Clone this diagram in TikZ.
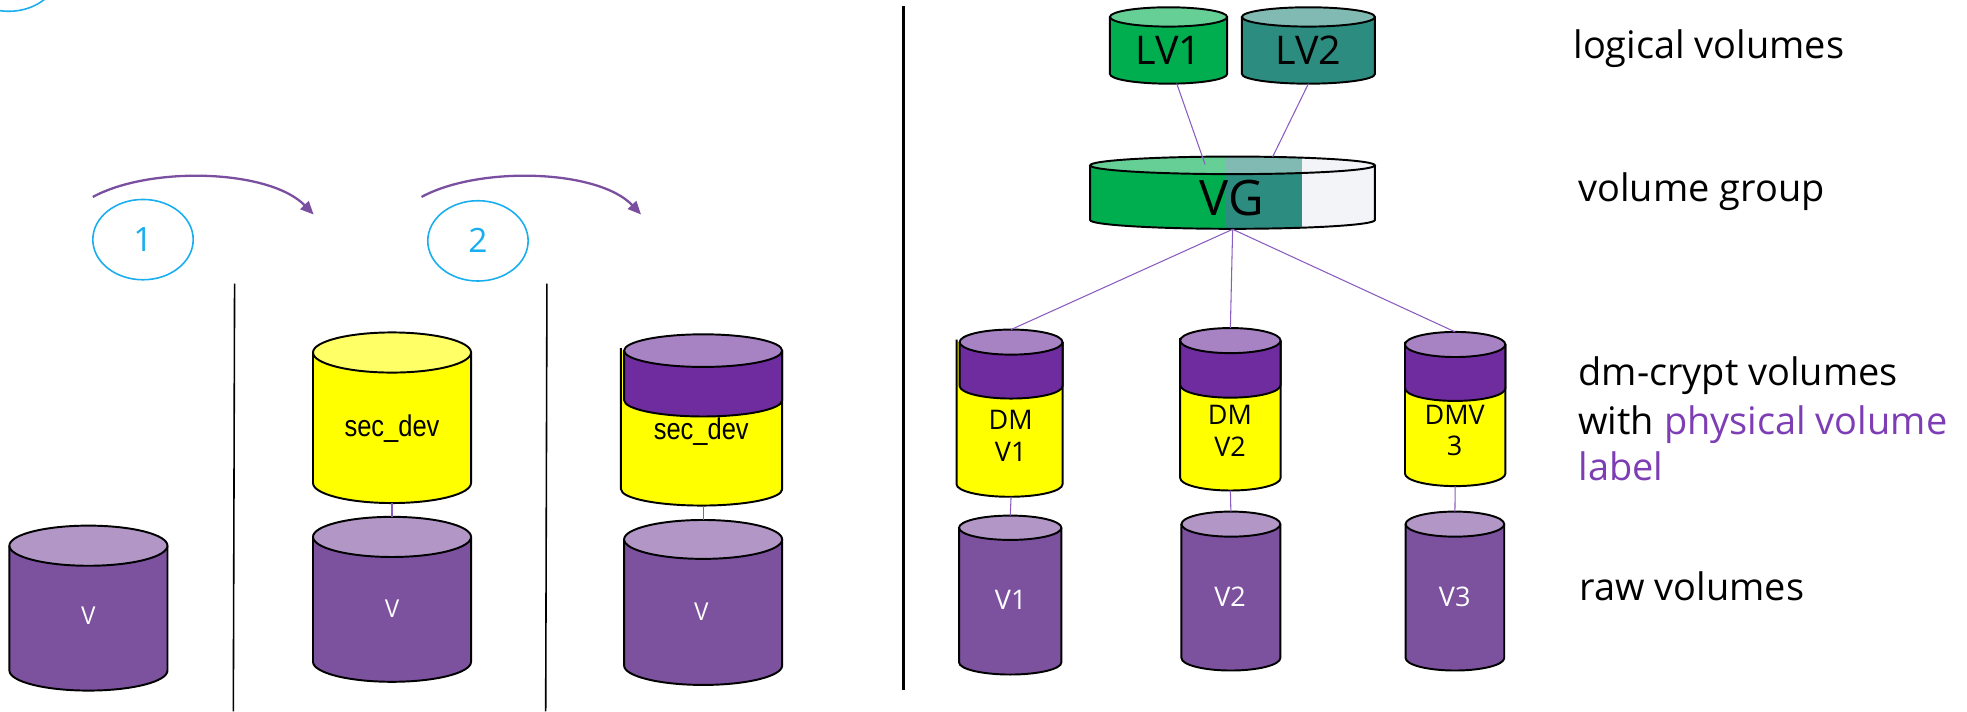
\documentclass[tikz,border=0pt]{standalone}
\usepackage{fontspec}
\setmainfont{Open Sans}
\newfontfamily\narrowfont[FakeStretch=0.85]{Liberation Sans}
\usetikzlibrary{arrows.meta,shapes.geometric}

\definecolor{rawbody}{HTML}{7C519E}
\definecolor{rawtop}{HTML}{B196C6}
\definecolor{bandbody}{HTML}{6E2C9E}
\definecolor{bandtop}{HTML}{A883C4}
\definecolor{secyellow}{HTML}{FFFF00}
\definecolor{sectop}{HTML}{FFFF66}
\definecolor{lvgreen}{HTML}{00AE4F}
\definecolor{lvgreentop}{HTML}{66CF95}
\definecolor{lvteal}{HTML}{2D8C80}
\definecolor{lvtealtop}{HTML}{80BAB3}
\definecolor{vgfree}{HTML}{F2F4F8}
\definecolor{tiecol}{HTML}{8A5CC0}
\definecolor{flowcol}{HTML}{7B4FA0}
\definecolor{stepcyan}{HTML}{19AEEF}
\definecolor{pvlabel}{HTML}{7D3DB5}

% plain cylinder: name, cx, y of top ellipse, y of bottom ellipse, rx, ry, body colour, lid colour
\newcommand\volcyl[8]{%
  \fill[#7] ({#2-#5},#3) -- ({#2-#5},#4) arc[start angle=180,end angle=0,x radius=#5,y radius=#6] -- ({#2+#5},#3) -- cycle;
  \draw[outline] ({#2-#5},#3) -- ({#2-#5},#4) arc[start angle=180,end angle=0,x radius=#5,y radius=#6] -- ({#2+#5},#3);
  \draw[outline,fill=#8] (#2,#3) ellipse[x radius=#5,y radius=#6];
  \coordinate (#1-top) at (#2,{#3-#6});
  \coordinate (#1-bot) at (#2,{#4+#6});
}

% encrypted cylinder with a label band: name, cx, y top, y band, y bottom, rx, ry, extra width on the left
\newcommand\dmcyl[8]{%
  \fill[secyellow] ({#2-#6-#8},#3) -- ({#2-#6-#8},#5) arc[start angle=180,end angle=0,x radius={#6+#8/2},y radius=#7] -- ({#2+#6},#3) -- cycle;
  \draw[outline] ({#2-#6-#8},{#3-2}) -- ({#2-#6-#8},#5) arc[start angle=180,end angle=0,x radius={#6+#8/2},y radius=#7] -- ({#2+#6},#3);
  \fill[bandbody] ({#2-#6},#3) -- ({#2-#6},#4) arc[start angle=180,end angle=0,x radius=#6,y radius=#7] -- ({#2+#6},#3) -- cycle;
  \draw[outline] ({#2-#6},#3) -- ({#2-#6},#4) arc[start angle=180,end angle=0,x radius=#6,y radius=#7] -- ({#2+#6},#3);
  \draw[outline,fill=bandtop] (#2,#3) ellipse[x radius=#6,y radius=#7];
  \coordinate (#1-top) at (#2,{#3-#7});
  \coordinate (#1-bot) at (#2,{#5+#7});
}

\begin{document}
\begin{tikzpicture}[x=0.025cm,y=-0.025cm,
  outline/.style={draw=black,line width=1.1pt},
  tie/.style={draw=tiecol,line width=0.6pt},
  flowarrow/.style={draw=flowcol,line width=1.3pt,-{Triangle[length=7.5pt,width=6.5pt]}},
  divider/.style={draw=black,line width=0.9pt},
  bigdivider/.style={draw=black,line width=1.7pt},
  stepring/.style={ellipse,draw=stepcyan,line width=0.9pt,minimum width=2cm,minimum height=1.6cm,inner sep=0pt,
    text=stepcyan,font=\fontsize{19}{22}\selectfont},
  narrowwhite/.style={text=white,font=\narrowfont\fontsize{14.5}{16}\selectfont,inner sep=0pt},
  narrowblack/.style={text=black,font=\narrowfont\fontsize{17}{19}\selectfont,inner sep=0pt,anchor=base},
  dmtext/.style={align=center,font=\fontsize{15.3}{17.7}\selectfont,inner sep=0pt},
  rawtext/.style={text=white,font=\fontsize{15.3}{17.7}\selectfont,inner sep=0pt},
  lvtext/.style={font=\fontsize{22.4}{26}\selectfont,inner sep=0pt},
  vgtext/.style={font=\fontsize{27.7}{32}\selectfont,inner sep=0pt},
  layertext/.style={anchor=base west,font=\fontsize{21.5}{26}\selectfont,inner sep=0pt}]

\useasboundingbox (0,0) rectangle (1568,567);

% ---------- step markers and arrows ----------
\node[stepring] (s0) at (7,-23) {};
\node[stepring] (s1) at (114,191) {1};
\node[stepring] (s2) at (381,192) {2};

\coordinate (a1s) at (74,157);
\coordinate (a1e) at (250,171);
\coordinate (a2s) at (336,157);
\coordinate (a2e) at (511,171);
\draw[flowarrow] (a1s) .. controls (120,132) and (215,135) .. (a1e);
\draw[flowarrow] (a2s) .. controls (382,132) and (477,135) .. (a2e);

% ---------- dividers ----------
\coordinate (d1t) at (187,226);
\coordinate (d1b) at (186,567);
\coordinate (d2t) at (436,226);
\coordinate (d2b) at (435,567);
\coordinate (d3t) at (720,5);
\coordinate (d3b) at (720,550);
\draw[divider] (d1t) -- (d1b);
\draw[divider] (d2t) -- (d2b);
\draw[bigdivider] (d3t) -- (d3b);

% ---------- stage 0: raw volume ----------
\volcyl{cA}{70.5}{435}{534.5}{63}{16}{rawbody}{rawtop}
\node[narrowwhite] (lA) at (70.5,491) {V};

% ---------- stage 1: sec_dev on top of the raw volume ----------
\volcyl{cC}{312.5}{281}{385}{63}{16}{secyellow}{sectop}
\volcyl{cB}{312.5}{428}{527.5}{63}{16}{rawbody}{rawtop}
\node[narrowblack] (lC) at (312.5,348) {sec\_dev};
\node[narrowwhite] (lB) at (312.5,485) {V};
\draw[tie] (cC-bot) -- (cB-top);

% ---------- stage 2: sec_dev with a physical volume label ----------
\dmcyl{cE}{560.5}{279.5}{319}{390}{63}{13}{2.5}
\volcyl{cD}{560.5}{430}{530.5}{63}{15.5}{rawbody}{rawtop}
\node[narrowblack] (lE) at (559,350) {sec\_dev};
\node[narrowwhite] (lD) at (559,488) {V};
\draw[tie] (cE-bot) -- (cD-top);

% ---------- LVM stack: logical volumes ----------
\volcyl{lv1}{931.5}{13.5}{59}{46.7}{7.7}{lvgreen}{lvgreentop}
\volcyl{lv2}{1043}{13.5}{59}{53}{7.7}{lvteal}{lvtealtop}
\node[lvtext] (tlv1) at (931.5,40) {LV1};
\node[lvtext] (tlv2) at (1043,40) {LV2};

% ---------- volume group ----------
\begin{scope}
  \clip (869,131.8) -- (869,175.4) arc[start angle=180,end angle=0,x radius=113.5,y radius=7] -- (1096,131.8) -- cycle;
  \fill[lvgreen] (860,110) rectangle (977,195);
  \fill[lvteal] (977,110) rectangle (1037.6,195);
  \fill[vgfree] (1037.6,110) rectangle (1105,195);
\end{scope}
\begin{scope}
  \clip (982.5,131.8) ellipse[x radius=113.5,y radius=7];
  \fill[lvgreentop] (860,110) rectangle (977,150);
  \fill[lvtealtop] (977,110) rectangle (1037.6,150);
  \fill[vgfree] (1037.6,110) rectangle (1105,150);
\end{scope}
\draw[outline] (869,131.8) -- (869,175.4) arc[start angle=180,end angle=0,x radius=113.5,y radius=7] -- (1096,131.8);
\draw[outline] (982.5,131.8) ellipse[x radius=113.5,y radius=7];
\node[vgtext] (vg) at (982,158) {VG};

% ---------- dm-crypt volumes and raw volumes ----------
\dmcyl{dm1}{806}{272.7}{307.7}{386}{41}{10}{2.5}
\dmcyl{dm2}{980.8}{271.5}{307}{381}{40}{10}{0}
\dmcyl{dm3}{1160}{274.6}{309.6}{377.5}{40}{10}{0}
\node[dmtext] (tdm1) at (805.7,347.4) {DM\\V1};
\node[dmtext] (tdm2) at (980.5,343.4) {DM\\V2};
\node[dmtext] (tdm3) at (1159.6,343.4) {DMV\\3};

\volcyl{pv1}{805.3}{420.7}{528}{40.8}{9.7}{rawbody}{rawtop}
\volcyl{pv2}{981.2}{417.8}{524.5}{39.4}{10}{rawbody}{rawtop}
\volcyl{pv3}{1159.8}{417.8}{524.5}{39.3}{10}{rawbody}{rawtop}
\node[rawtext] (tpv1) at (805.7,478.3) {V1};
\node[rawtext] (tpv2) at (980.5,475.6) {V2};
\node[rawtext] (tpv3) at (1159.6,475.6) {V3};

% ---------- links ----------
\coordinate (lv1-foot) at (938,66.5);
\coordinate (vg-in1) at (960.6,131);
\coordinate (vg-in2) at (1014.5,125);
\coordinate (vg-out) at (982.6,182.8);
\draw[tie] (lv1-foot) -- (vg-in1);
\draw[tie] (lv2-bot) -- (vg-in2);
\draw[tie] (vg-out) -- (dm1-top);
\draw[tie] (vg-out) -- (dm2-top);
\draw[tie] (vg-out) -- (dm3-top);
\draw[tie] (dm1-bot) -- (pv1-top);
\draw[tie] (dm2-bot) -- (pv2-top);
\draw[tie] (dm3-bot) -- (pv3-top);

% ---------- layer captions ----------
\node[layertext] (c1) at (1254,47) {logical volumes};
\node[layertext] (c2) at (1258,161) {volume group};
\node[layertext] (c3) at (1258,307.3) {dm-crypt volumes};
\node[layertext] (c4) at (1258,346.3) {with \textcolor{pvlabel}{physical volume}};
\node[layertext] (c5) at (1258,383.2) {\textcolor{pvlabel}{label}};
\node[layertext] (c6) at (1259,479) {raw volumes};
\end{tikzpicture}
\end{document}
